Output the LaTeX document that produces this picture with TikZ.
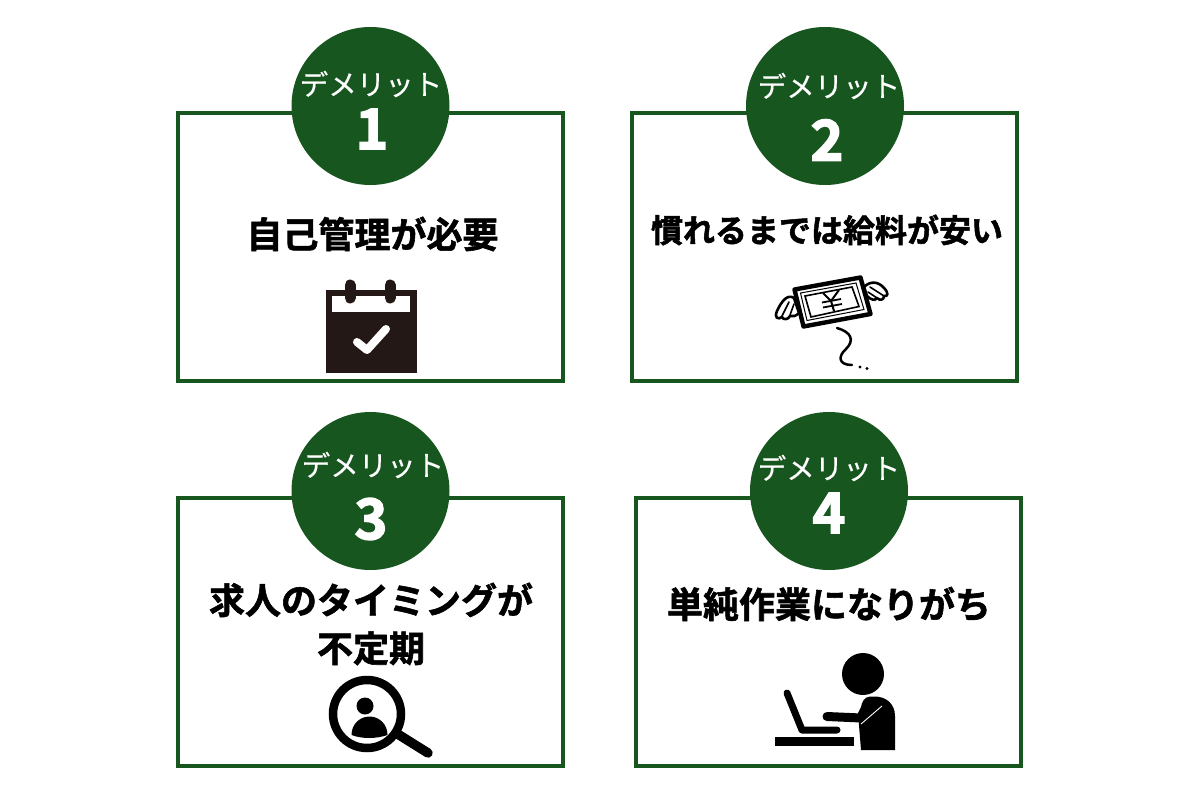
\documentclass[tikz,border=0pt]{standalone}
\usepackage{fontspec}
\setmainfont{Noto Sans CJK JP}
\newfontfamily\jpbold[FakeBold=1.6]{Noto Sans CJK JP Bold}
\newfontfamily\jpnum[FakeBold=2.6]{Noto Sans CJK JP Bold}
\newfontfamily\jpreg[FakeBold=0.35]{Noto Sans CJK JP}
\definecolor{dgreen}{HTML}{18561F}
\definecolor{ink}{HTML}{000000}
\definecolor{calink}{HTML}{231815}
\tikzset{
  panel/.style={draw=dgreen,line width=3.5pt,fill=white,minimum width=385pt,minimum height=268pt,inner sep=0pt,anchor=north west},
  badge/.style={circle,fill=dgreen,minimum size=158pt,inner sep=0pt},
  badgelabel/.style={text=white,inner sep=0pt,font=\jpreg\fontsize{28.5}{30}\selectfont},
  badgenum/.style={text=white,inner sep=0pt,font=\jpnum\fontsize{56}{58}\selectfont},
  heading/.style={text=black,inner sep=0pt,align=center,font=\jpbold\fontsize{36}{48}\selectfont},
  headingsmall/.style={text=black,inner sep=0pt,align=center,font=\jpbold\fontsize{32}{40}\selectfont},
  wingline/.style={ink,line width=1.6pt,line cap=round},
  wing/.style={ink,line width=2.6pt,fill=white,line join=round},
}
\begin{document}
\begin{tikzpicture}[x=1pt,y=-1pt]
\useasboundingbox (0,0) rectangle (1200,800);
\fill[white] (0,0) rectangle (1200,800);
% panels
\node[panel] (p1) at (176.2,111.2) {};
\node[panel] (p2) at (630.2,111.2) {};
\node[panel] (p3) at (176.2,496.2) {};
\node[panel] (p4) at (634.2,496.2) {};
% badges
\node[badge] (b1) at (370.5,106) {};
\node[badge] (b2) at (825,106) {};
\node[badge] (b3) at (370.5,491) {};
\node[badge] (b4) at (829,491) {};
\node[badgelabel] (l1) at (371,84) {デメリット};
\node[badgelabel] (l2) at (829,86) {デメリット};
\node[badgelabel] (l3) at (373,465) {デメリット};
\node[badgelabel] (l4) at (829,468) {デメリット};
\node[badgenum] (n1) at (372,129) {1};
\node[badgenum] (n2) at (827,140) {2};
\node[badgenum] (n3) at (371,519) {3};
\node[badgenum] (n4) at (829,513) {4};
% headings
\node[heading] (h1) at (372.5,234) {自己管理が必要};
\node[headingsmall] (h2) at (827,230) {慣れるまでは給料が安い};
\node[heading] (h3) at (371,624) {求人のタイミングが\\不定期};
\node[heading] (h4) at (829,604) {単純作業になりがち};
% calendar icon
\fill[calink] (326,290) rectangle (416.5,373);
\fill[white] (332,296) rectangle (410,312);
\draw[calink,line width=11pt,line cap=round] (350,285) -- (350,298);
\draw[calink,line width=11pt,line cap=round] (390,285) -- (390,298);
\draw[white,line width=8pt,line cap=round,line join=round] (357,342) -- (367,350) -- (386,329);
% wings
\draw[wing] (794,298) .. controls (788,294) and (782,300) .. (777,311) .. controls (774,318) and (778,320) .. (782,317) .. controls (783,320) and (788,320) .. (790,316) .. controls (793,317) and (796,316) .. (799,313) -- cycle;
\draw[wingline] (789,302) -- (782,316);
\draw[wingline] (794,304) -- (790,315);
\draw[wing] (864,287) .. controls (870,281) and (878,281) .. (884,288) .. controls (889,293) and (888,297) .. (884,296) .. controls (884,300) and (880,301) .. (877,298) .. controls (875,301) and (871,300) .. (867,296) -- cycle;
\draw[wingline] (870,287) -- (884,296);
\draw[wingline] (868,292) -- (877,298);
% flying banknote
\draw[ink,line width=4.4pt,fill=white,line join=round] (794.5,289.5) -- (860.5,277.5) -- (870.5,314) -- (803.5,326.5) -- cycle;
\draw[ink,line width=1pt] (800.5,293) -- (856,283) -- (864,309.5) -- (807,320.5) -- cycle;
\draw[ink,line width=1.6pt] (805,296) -- (852,287) -- (859,306.5) -- (811,317) -- cycle;
\draw[ink,line width=2pt] (823,293) -- (831,301) -- (839,290);
\draw[ink,line width=2pt] (831,301) -- (834,311);
\draw[ink,line width=1.8pt] (822,302.5) -- (841,299);
\draw[ink,line width=1.8pt] (823,307.5) -- (842,304);
\draw[ink,line width=2.5pt,line cap=round] (837,328) .. controls (851,332) and (855,340) .. (846,349) .. controls (838,356) and (838,365) .. (852,365);
\fill[ink] (860,367) circle (1.7pt);
\fill[ink] (867,368.5) circle (1.7pt);
% magnifier
\draw[ink,line width=8.5pt] (367,714) circle (34pt);
\draw[ink,line width=9.5pt,line cap=round] (396,733) -- (428,753);
\fill[ink] (365,706) circle (8.5pt);
\fill[ink] (351.5,735) .. controls (351.5,724) and (360,716.5) .. (369.5,716.5) .. controls (379,716.5) and (387.5,724) .. (387.5,735) .. controls (376,739) and (362,739) .. (351.5,735) -- cycle;
% person at laptop
\fill[ink] (863,674) circle (21pt);
\fill[ink] (861,750) -- (895,750) -- (895,716) .. controls (895,703) and (885,696.5) .. (875,696.5) -- (870,696.5) .. controls (864,697) and (862,702) .. (861,707) -- (858,713) -- cycle;
\draw[ink,line width=9pt,line cap=round] (827,716.5) -- (861,718);
\draw[white,line width=.9pt] (861,724) -- (882,706);
\draw[ink,line width=7pt,line cap=round,line join=round] (787,693) -- (802,730) -- (837,730);
\fill[ink] (775,737) rectangle (853.5,746);
\end{tikzpicture}
\end{document}
